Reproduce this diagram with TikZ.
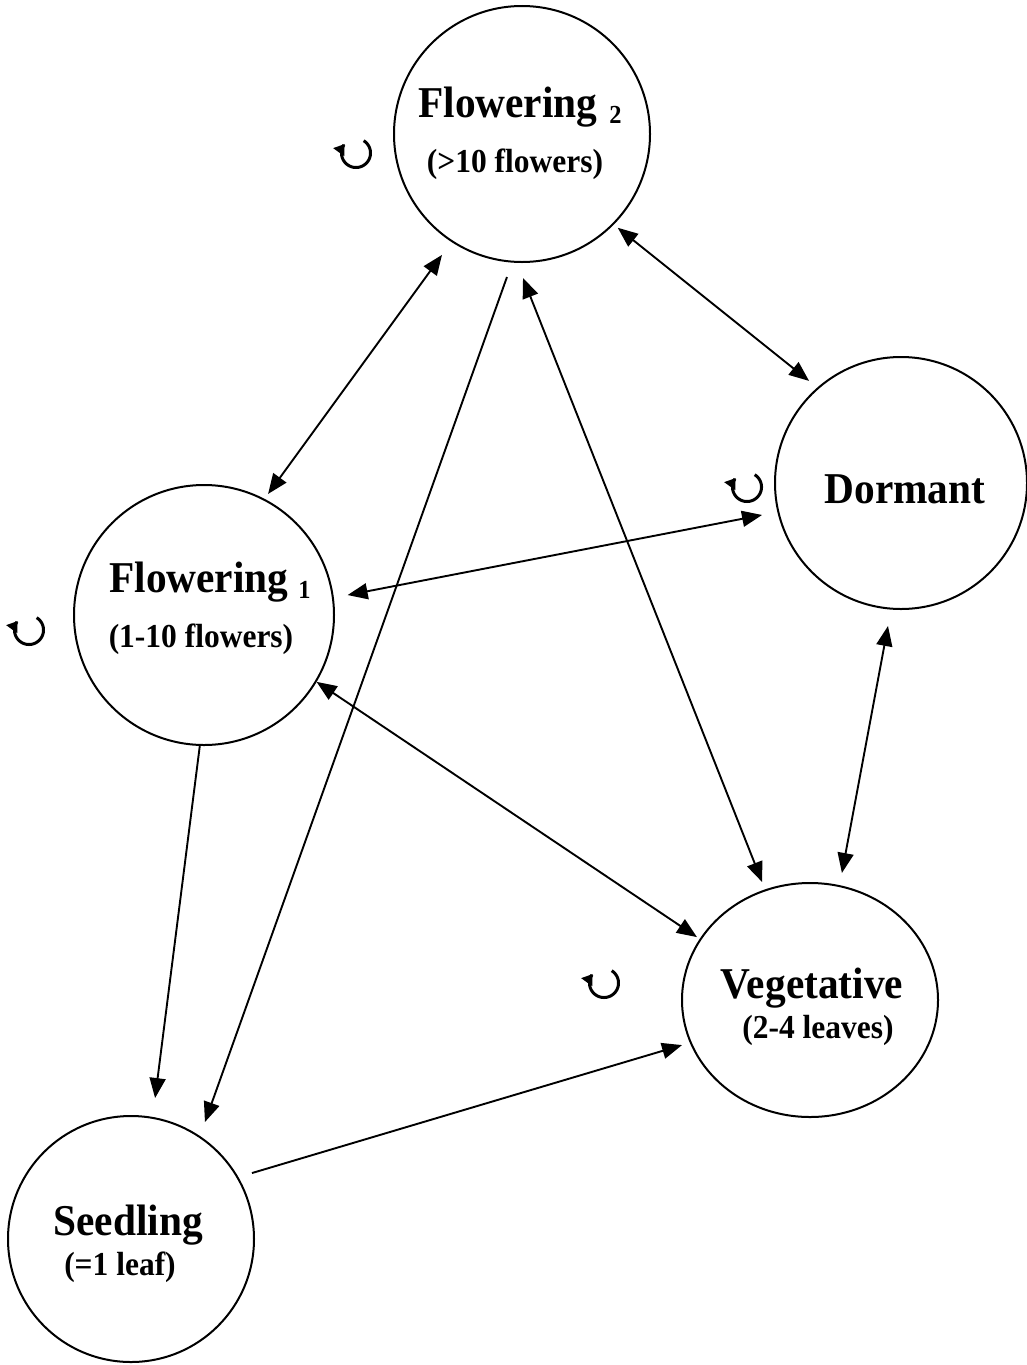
\documentclass[tikz,border=0pt]{standalone}
\usepackage{fontspec}
\setmainfont{Liberation Serif}[FakeStretch=0.94]
\usetikzlibrary{arrows.meta,calc,shapes.geometric}
\begin{document}
\begin{tikzpicture}[x=1pt,y=-1pt,
  >={Triangle[length=20pt,width=16pt]},
  stnode/.style={circle,draw,line width=2pt,inner sep=0pt,outer sep=0pt,minimum size=#1},
  stell/.style={ellipse,draw,line width=2pt,inner sep=0pt,outer sep=0pt},
  ttl/.style={font=\fontsize{44}{50}\selectfont\bfseries,inner sep=0pt,anchor=base},
  sbt/.style={font=\fontsize{33.5}{38}\selectfont\bfseries,inner sep=0pt,anchor=base},
  link/.style={line width=1.9pt},
  selfloop/.pic={\draw[line width=3pt,-{Triangle[length=10pt,width=13pt]}] plot[domain=58:-218,samples=70] (\x:14.5pt);}
]
\useasboundingbox (0,0) rectangle (1026,1365);
\fill[white] (0,0) rectangle (1026,1365);

% states
\node[stnode=256pt] (f2) at (522,134) {};
\node[stnode=260pt] (f1) at (204,615) {};
\node[stnode=252pt] (dor) at (901,483) {};
\node[stell,minimum width=256pt,minimum height=234pt] (veg) at (810,1000) {};
\node[stnode=246pt] (seed) at (131,1239) {};

% labels
\node[ttl] (f2t) at (520,117) {Flowering\hspace{12pt}\raisebox{-6pt}{\fontsize{26}{30}\selectfont 2}};
\node[sbt] (f2s) at (515,172) {(>10 flowers)};
\node[ttl] (f1t) at (210,592) {Flowering\hspace{10pt}\raisebox{-6pt}{\fontsize{26}{30}\selectfont 1}};
\node[sbt] (f1s) at (201,647) {(1-10 flowers)};
\node[ttl] (dort) at (905,503) {Dormant};
\node[ttl] (vegt) at (812,998) {Vegetative};
\node[sbt] (vegs) at (818,1038) {(2-4 leaves)};
\node[ttl] (seedt) at (128,1235) {Seedling};
\node[sbt] (seeds) at (120,1275) {(=1 leaf)};

% self-loops
\pic (l2) at (356,153) {selfloop};
\pic (l1) at (29,630) {selfloop};
\pic (ld) at (747,487) {selfloop};
\pic (lv) at (604,983) {selfloop};

% transitions
\draw[link,<->] ($(f2)+(-123.5:145pt)$) -- ($(f1)+(62.1:137pt)$);
\draw[link,<->] ($(f2)+(-44.4:134pt)$) -- ($(dor)+(132.0:137.4pt)$);
\draw[link,<->] ($(dor)+(192.96:142.6pt)$) -- ($(f1)+(7.9:145pt)$);
\draw[link,<->] ($(f1)+(-30.7:131pt)$) -- ($(veg)+(150.9:129.4pt)$);
\draw[link,<->] ($(f2)+(-89.6:144pt)$) -- ($(veg)+(112.1:127.4pt)$);
\draw[link,<->] ($(dor)+(-95.2:143.6pt)$) -- ($(veg)+(75.9:131pt)$);
\draw[link,->] ($(f2)+(-96:143.8pt)$) -- ($(seed)+(57.7:138.4pt)$);
\draw[link,->] ($(f1)+(-91.8:130pt)$) -- ($(seed)+(80.3:143pt)$);
\draw[link,->] ($(seed)+(28.6:137.8pt)$) -- ($(veg)+(199.4:135.7pt)$);
\end{tikzpicture}
\end{document}
